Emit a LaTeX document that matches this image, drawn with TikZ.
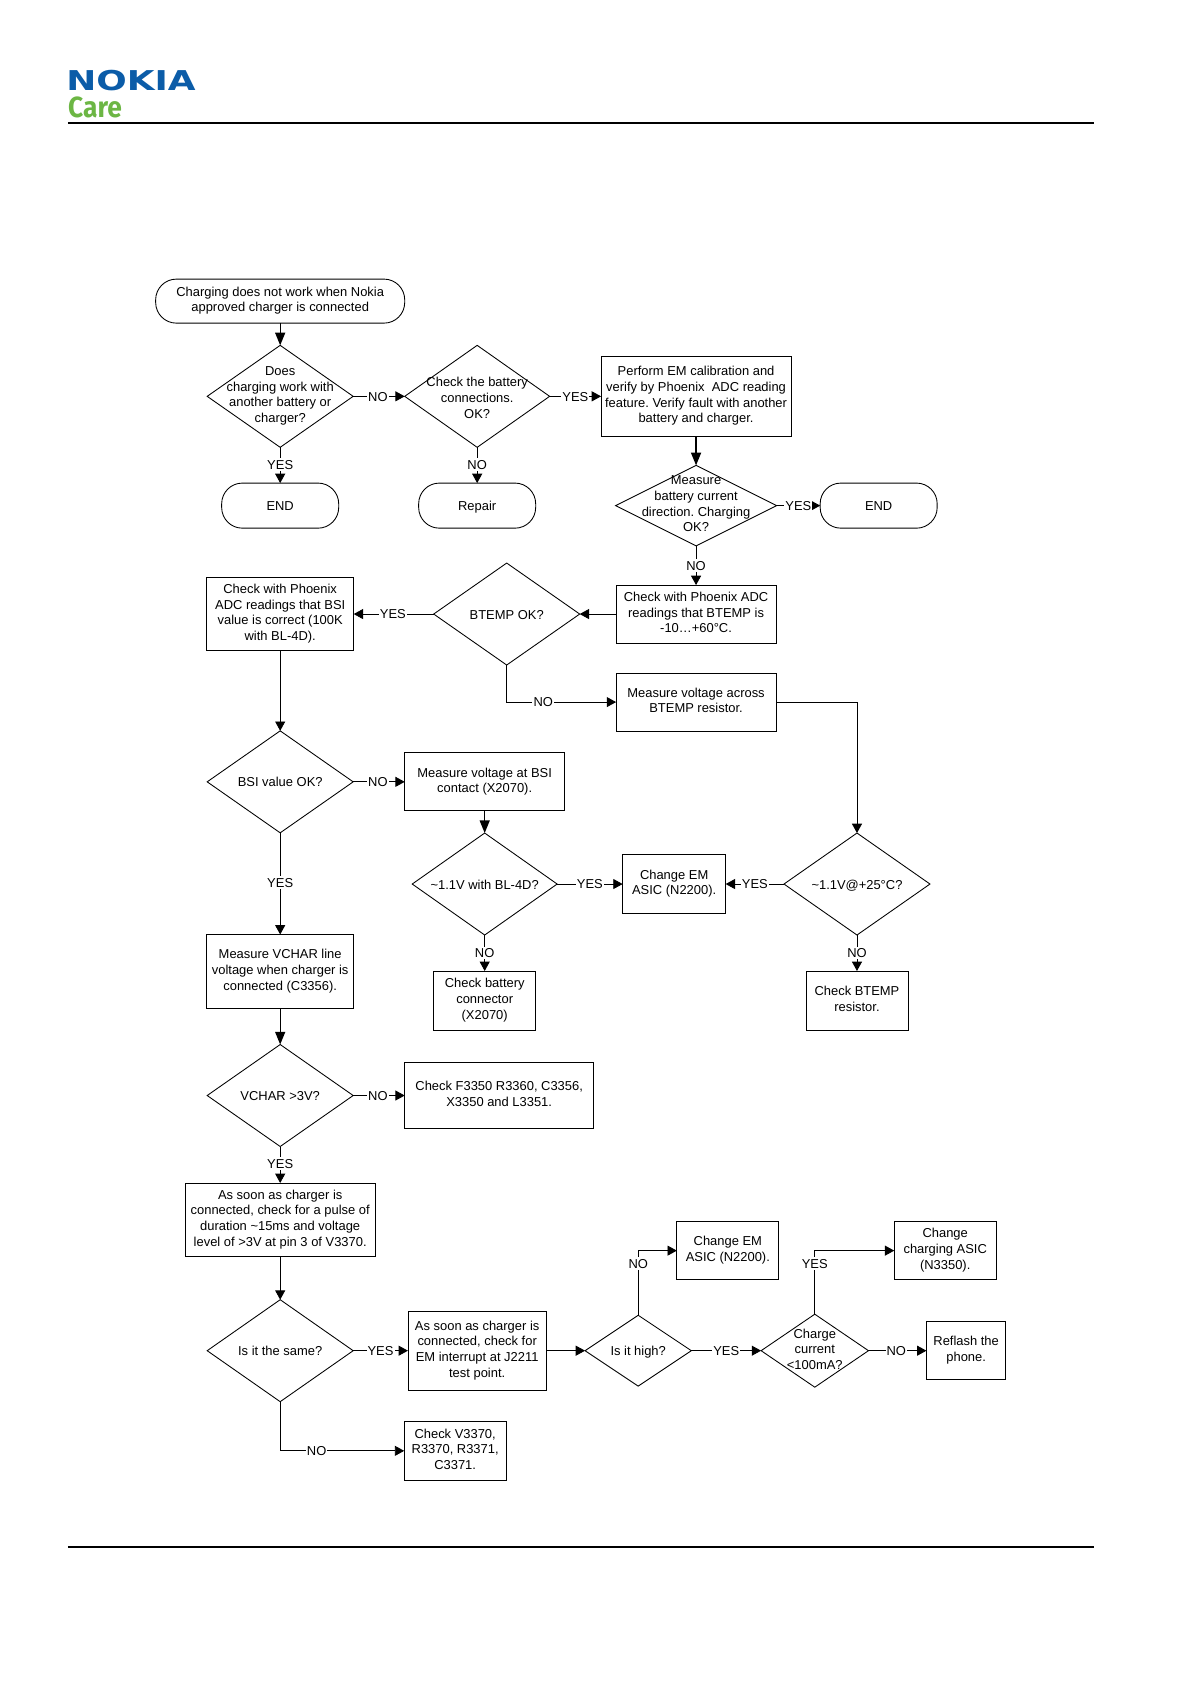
\documentclass[tikz,border=0pt]{standalone}
\usepackage{fontspec}
\setmainfont{Liberation Sans}
\usetikzlibrary{arrows.meta,shapes.geometric}
\definecolor{nokiablue}{HTML}{0B5CA8}
\definecolor{caregreen}{HTML}{6CB644}
\tikzset{
  x=0.8051pt,y=-0.8051pt,
  txt/.style={font=\fontsize{9.7}{11.75}\selectfont\frenchspacing,align=center,inner sep=0pt,
     execute at begin node={\rule{0pt}{10pt}},execute at end node={\rule[-2.5pt]{0pt}{2.5pt}}},
  base/.style={txt,outer sep=0pt,line width=0.65pt,draw=black},
  boxn/.style 2 args={base,rectangle,minimum width=#1*0.8051pt,minimum height=#2*0.8051pt},
  term/.style 2 args={base,rectangle,rounded corners=15.5pt,minimum width=#1*0.8051pt,minimum height=#2*0.8051pt},
  dia/.style n args={3}{font=\small,inner sep=0pt,outer sep=0pt,line width=0.65pt,draw=black,diamond,minimum width=#1*0.8051pt,minimum height=#2*0.8051pt,
     label={[txt]center:{#3}}},
  conn/.style={line width=0.65pt,-{Triangle[length=7pt,width=7.5pt]}},
  connb/.style={line width=1pt,-{Triangle[length=9.5pt,width=7.5pt]}},
  lab/.style={font=\fontsize{9.7}{11.75}\selectfont,fill=white,inner xsep=0.8pt,inner ysep=1.3pt,text height=7pt,text depth=0pt}
}
\begin{document}
\begin{tikzpicture}
\useasboundingbox (0,0) rectangle (1109.4,1568.7);
% header and footer
\node[anchor=south west,inner sep=0pt,text=nokiablue] (nokia) at (61.5,84.8) {\resizebox{97pt}{15.2pt}{\fontspec{DejaVu Sans Bold}NOKIA}};
\node[anchor=south west,inner sep=0pt,text=caregreen] (care) at (63.3,110.4) {\resizebox{40.3pt}{15.5pt}{\fontspec{Fira Sans}\bfseries Care}};
\coordinate (hl) at (63.3,114.3); \coordinate (hr) at (1019,114.3);
\coordinate (fl) at (63.3,1441); \coordinate (fr) at (1019,1441);
\draw[line width=1.4pt] (hl) -- (hr);
\draw[line width=1.2pt] (fl) -- (fr);
% nodes
\node[term={232}{41}] (start) at (261,280.5) {Charging does not work when Nokia\\approved charger is connected};
\node[dia={136}{95}{Does\\charging work with\\another battery or\\charger?}] (d1) at (261,369.2) {};
\node[dia={135}{95}{\mbox{}\\Check the battery\\connections.\\OK?}] (d2) at (444.5,369.2) {};
\node[boxn={177}{75}] (p1) at (648.4,369.2) {Perform EM calibration and\\verify by Phoenix\ \ ADC reading\\feature. Verify fault with another\\battery and charger.};
\node[term={109}{42}] (end1) at (261,471) {END};
\node[term={109}{42}] (repair) at (444.5,471) {Repair};
\node[dia={150}{75}{Measure\\battery current\\direction. Charging\\OK?}] (d3) at (648.4,471) {};
\node[term={109}{42}] (end2) at (818.5,471) {END};
\node[boxn={149}{54}] (p2) at (648.4,572) {Check with Phoenix ADC\\readings that BTEMP is\\-10…+60°C.};
\node[dia={136}{95}{BTEMP OK?}] (d4) at (472,572) {};
\node[boxn={137}{68}] (p3) at (261,572) {Check with Phoenix\\ADC readings that BSI\\value is correct (100K\\with BL-4D).};
\node[boxn={149}{54}] (p4) at (648.4,654) {Measure voltage across\\BTEMP resistor.};
\node[dia={136}{95}{BSI value OK?}] (d5) at (261,728.3) {};
\node[boxn={149}{54}] (p5) at (451.5,728.3) {Measure voltage at BSI\\contact (X2070).};
\node[dia={135}{95}{\textasciitilde1.1V with BL-4D?}] (d6) at (451.5,823.5) {};
\node[boxn={96}{55}] (p6) at (628,823.5) {Change EM\\ASIC (N2200).};
\node[dia={136}{95}{\textasciitilde1.1V@+25°C?}] (d7) at (798.3,823.5) {};
\node[boxn={95}{55}] (p7) at (451.5,932) {Check battery\\connector\\(X2070)};
\node[boxn={95}{55}] (p8) at (798.3,932) {Check BTEMP\\resistor.};
\node[boxn={137}{69}] (p9) at (261,905) {Measure VCHAR line\\voltage when charger is\\connected (C3356).};
\node[dia={136}{95}{VCHAR >3V?}] (d8) at (261,1020.5) {};
\node[boxn={176}{61}] (p10) at (465,1020.5) {Check F3350 R3360, C3356,\\X3350 and L3351.};
\node[boxn={177}{68}] (p11) at (261,1136) {As soon as charger is\\connected, check for a pulse of\\duration \textasciitilde15ms and voltage\\level of >3V at pin 3 of V3370.};
\node[dia={136}{95}{Is it the same?}] (d9) at (261,1258.2) {};
\node[boxn={129}{74}] (p12) at (444.5,1258.2) {As soon as charger is\\connected, check for\\EM interrupt at J2211\\test point.};
\node[dia={99}{66}{Is it high?}] (d10) at (594.5,1258.2) {};
\node[dia={100}{68}{Charge\\current\\<100mA?}] (d11) at (759,1258.2) {};
\node[boxn={95}{54}] (p13) at (678,1165) {Change EM\\ASIC (N2200).};
\node[boxn={95}{54}] (p14) at (880.5,1165) {Change\\charging ASIC\\(N3350).};
\node[boxn={74}{54}] (p15) at (900,1258.2) {Reflash the\\phone.};
\node[boxn={95}{55}] (p16) at (424,1351.5) {Check V3370,\\R3370, R3371,\\C3371.};
% connectors
\draw[connb] (start) -- (d1);
\draw[conn] (d1) -- node[lab,pos=.48]{NO} (d2);
\draw[conn] (d2) -- node[lab,pos=.5]{YES} (p1);
\draw[conn] (d1) -- node[lab,pos=.49]{YES} (end1);
\draw[conn] (d2) -- node[lab,pos=.49]{NO} (repair);
\draw[connb] (p1) -- (d3);
\draw[conn] (d3) -- node[lab,pos=.5]{YES} (end2);
\draw[conn] (d3) -- node[lab,pos=.5]{NO} (p2);
\draw[conn] (p2) -- (d4);
\draw[conn] (d4) -- node[lab,pos=.51]{YES} (p3);
\draw[conn] (d4.south) |- node[lab,pos=.667]{NO} (p4.west);
\draw[conn] (p4.east) -| (d7.north);
\draw[conn] (p3) -- (d5);
\draw[conn] (d5) -- node[lab,pos=.48]{NO} (p5);
\draw[connb] (p5) -- (d6);
\draw[conn] (d6) -- node[lab,pos=.5]{YES} (p6);
\draw[conn] (d7) -- node[lab,pos=.5]{YES} (p6);
\draw[conn] (d6) -- node[lab,pos=.5]{NO} (p7);
\draw[conn] (d7) -- node[lab,pos=.5]{NO} (p8);
\draw[conn] (d5) -- node[lab,pos=.49]{YES} (p9);
\draw[connb] (p9) -- (d8);
\draw[conn] (d8) -- node[lab,pos=.48]{NO} (p10);
\draw[conn] (d8) -- node[lab,pos=.47]{YES} (p11);
\draw[conn] (p11) -- (d9);
\draw[conn] (d9) -- node[lab,pos=.5]{YES} (p12);
\draw[conn] (d9.south) |- node[lab,pos=.647]{NO} (p16.west);
\draw[conn] (p12) -- (d10);
\draw[conn] (d10.north) |- node[lab,pos=.4]{NO} (p13.west);
\draw[conn] (d10) -- node[lab,pos=.5]{YES} (d11);
\draw[conn] (d11.north) |- node[lab,pos=.4]{YES} (p14.west);
\draw[conn] (d11) -- node[lab,pos=.48]{NO} (p15);
\end{tikzpicture}
\end{document}
